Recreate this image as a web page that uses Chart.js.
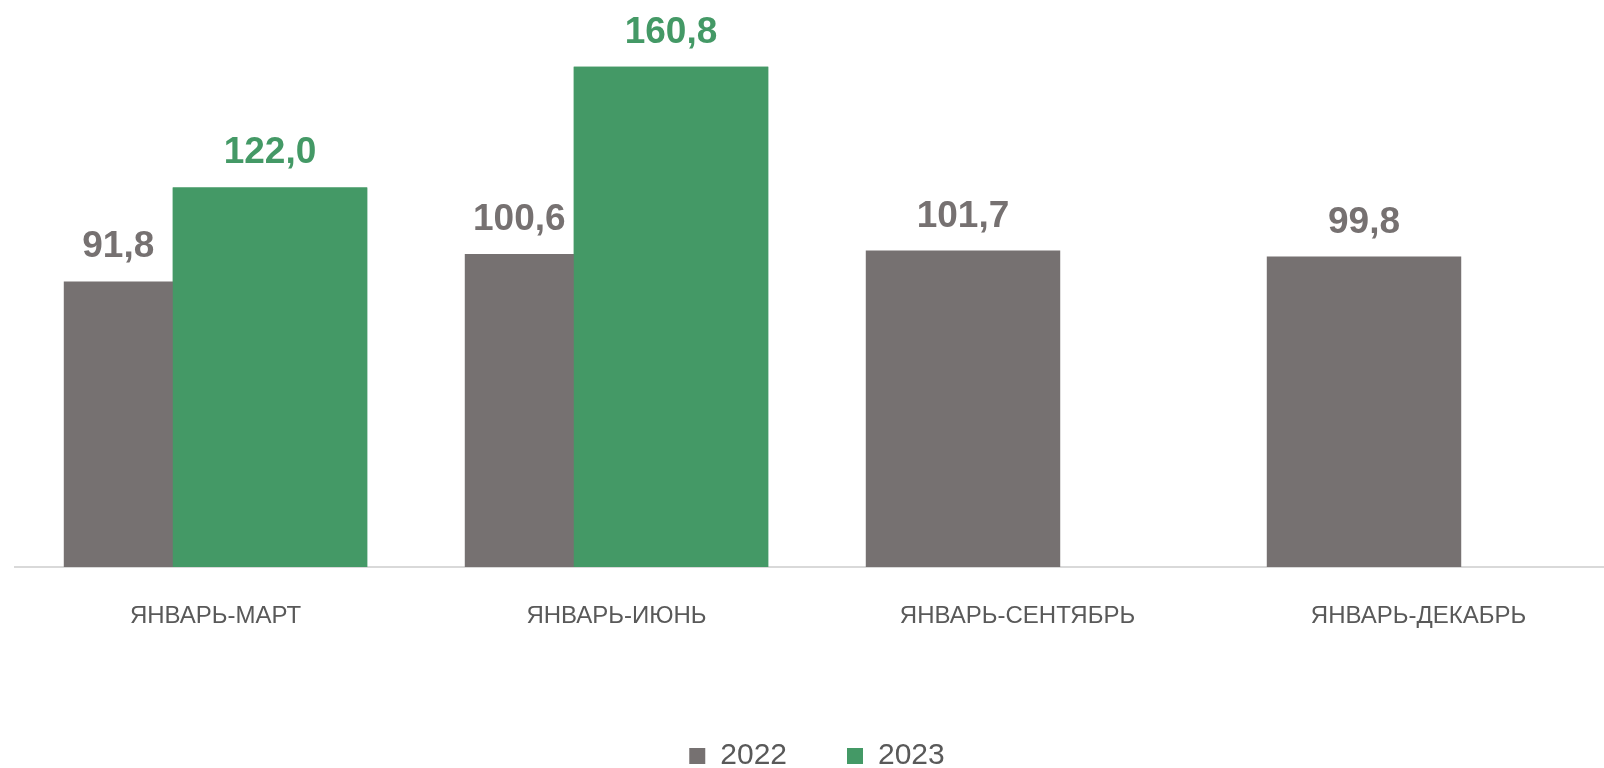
<!DOCTYPE html>
<html>
<head>
<meta charset="utf-8">
<script src="https://cdn.jsdelivr.net/npm/chart.js@4.4.1/dist/chart.umd.min.js"></script>
<style>
  html, body { margin: 0; padding: 0; background: #fff; overflow: hidden; }
  #wrap { width: 1636px; height: 781px; position: relative; }
</style>
</head>
<body>
<div id="wrap"><canvas id="chart"></canvas></div>
<script>
const categories = ["ЯНВАРЬ-МАРТ", "ЯНВАРЬ-ИЮНЬ", "ЯНВАРЬ-СЕНТЯБРЬ", "ЯНВАРЬ-ДЕКАБРЬ"];
const seriesNames = ["2022", "2023"];
const values2022 = [91.8, 100.6, 101.7, 99.8];
const values2023 = [122.0, 160.8, null, null];

const GRAY = "#767171";
const GREEN = "#449966";
const TEXT = "#595959";
const FONT = "'Liberation Sans', Arial, sans-serif";

function fmt(v) {
  return v.toFixed(1).replace(".", ",");
}

// green bars overlap the gray ones, so paint them again on top,
// then write the value labels
const overlapAndLabels = {
  id: "overlapAndLabels",
  afterDatasetsDraw(chart) {
    const ctx = chart.ctx;
    const grayMeta = chart.getDatasetMeta(0);
    const greenMeta = chart.getDatasetMeta(1);
    greenMeta.controller.draw();

    ctx.save();
    ctx.font = `bold 37px ${FONT}`;
    ctx.textAlign = "center";
    ctx.textBaseline = "alphabetic";

    grayMeta.data.forEach((bar, i) => {
      const v = values2022[i];
      if (v == null) return;
      let x = bar.x;
      const green = greenMeta.data[i];
      if (values2023[i] != null && green) {
        x = (bar.x - bar.width / 2 + green.x - green.width / 2) / 2;
      }
      ctx.fillStyle = GRAY;
      ctx.fillText(fmt(v), x, bar.y - 24);
    });

    greenMeta.data.forEach((bar, i) => {
      const v = values2023[i];
      if (v == null) return;
      ctx.fillStyle = GREEN;
      ctx.fillText(fmt(v), bar.x, bar.y - 24);
    });
    ctx.restore();
  },
};

new Chart(document.getElementById("chart"), {
  type: "bar",
  data: {
    labels: categories,
    datasets: [
      {
        label: seriesNames[0],
        data: values2022,
        backgroundColor: GRAY,
        categoryPercentage: 0.5436,
        barPercentage: 1.784,
      },
      {
        label: seriesNames[1],
        data: values2023,
        backgroundColor: GREEN,
        categoryPercentage: 0.5436,
        barPercentage: 1.784,
      },
    ],
  },
  options: {
    responsive: true,
    maintainAspectRatio: false,
    animation: false,
    layout: { padding: { left: 15, right: 17, top: 7, bottom: 0 } },
    plugins: {
      legend: {
        position: "bottom",
        labels: {
          boxWidth: 16,
          boxHeight: 16,
          padding: 60,
          color: TEXT,
          font: { family: FONT, size: 30 },
        },
      },
      tooltip: { enabled: false },
    },
    scales: {
      x: {
        grid: { display: false },
        border: { color: "#d9d9d9", width: 2 },
        ticks: {
          color: TEXT,
          padding: 27,
          font: { family: FONT, size: 24 },
        },
        afterFit(scale) {
          scale.height = 114;
        },
      },
      y: {
        display: false,
        min: 0,
        max: 180,
      },
    },
  },
  plugins: [overlapAndLabels],
});
</script>
</body>
</html>
